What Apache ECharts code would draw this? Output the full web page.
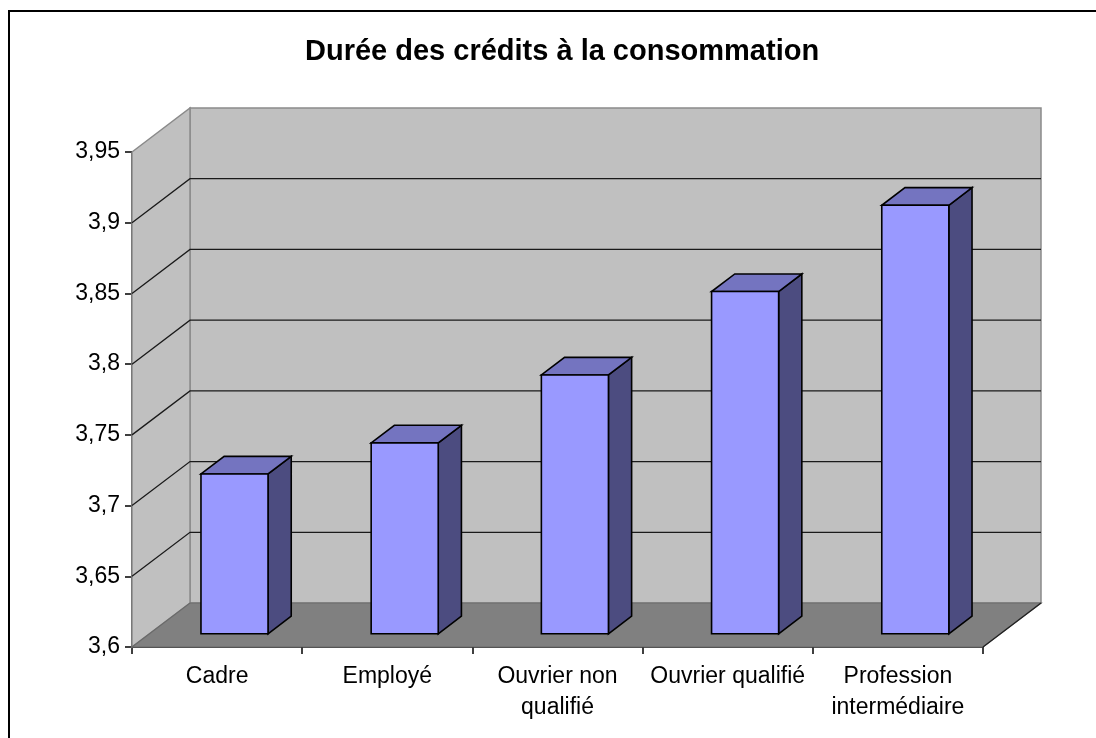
<!DOCTYPE html>
<html>
<head>
<meta charset="utf-8">
<title>Durée des crédits à la consommation</title>
<script src="https://cdn.jsdelivr.net/npm/echarts@6/dist/echarts.min.js"></script>
<style>
  html, body { margin: 0; padding: 0; background: #ffffff; }
  #chart { width: 1096px; height: 738px; }
</style>
</head>
<body>
<div id="chart"></div>
<script>
// Categories and average loan duration by occupation
const categories = ['Cadre', 'Employé', 'Ouvrier non\nqualifié', 'Ouvrier qualifié', 'Profession\nintermédiaire'];
const durations = [3.713, 3.735, 3.783, 3.842, 3.903];
const yTicks = [3.6, 3.65, 3.7, 3.75, 3.8, 3.85, 3.9, 3.95];

// Oblique projection of the depth axis (pixels for the full floor depth)
const DEPTH_X = 58;
const DEPTH_Y = 44;
// Bars occupy this depth slice of the floor
const BAR_FRONT = 0.3;
const BAR_BACK = 0.7;
const BAR_WIDTH = 0.394;

const Y_MIN = yTicks[0];
const Y_MAX = yTicks[yTicks.length - 1];

const FONT = 'Liberation Sans, Arial, sans-serif';

const chart = echarts.init(document.getElementById('chart'));

function fmt(v) {
  return String(+(+v).toFixed(2)).replace('.', ',');
}

// Back wall, side wall, floor and their gridlines
function renderWalls(params, api) {
  const cs = params.coordSys;
  const x0 = cs.x, x1 = cs.x + cs.width;
  const yb = api.coord([0, Y_MIN])[1];
  const yt = api.coord([0, Y_MAX])[1];
  const children = [];
  // back wall
  children.push({
    type: 'polygon',
    shape: { points: [[x0 + DEPTH_X, yt - DEPTH_Y], [x1 + DEPTH_X, yt - DEPTH_Y], [x1 + DEPTH_X, yb - DEPTH_Y], [x0 + DEPTH_X, yb - DEPTH_Y]] },
    style: { fill: '#c0c0c0', stroke: '#8a8a8a', lineWidth: 1.5 }
  });
  // side wall
  children.push({
    type: 'polygon',
    shape: { points: [[x0, yt], [x0 + DEPTH_X, yt - DEPTH_Y], [x0 + DEPTH_X, yb - DEPTH_Y], [x0, yb]] },
    style: { fill: '#c0c0c0', stroke: '#8a8a8a', lineWidth: 1.5 }
  });
  // gridlines on both walls
  yTicks.forEach(function (t, k) {
    if (k === 0 || k === yTicks.length - 1) return;
    const y = api.coord([0, t])[1];
    children.push({
      type: 'polyline',
      shape: { points: [[x0, y], [x0 + DEPTH_X, y - DEPTH_Y], [x1 + DEPTH_X, y - DEPTH_Y]] },
      style: { fill: null, stroke: '#1a1a1a', lineWidth: 1.3 }
    });
  });
  // floor
  children.push({
    type: 'polygon',
    shape: { points: [[x0, yb], [x1, yb], [x1 + DEPTH_X, yb - DEPTH_Y], [x0 + DEPTH_X, yb - DEPTH_Y]] },
    style: { fill: '#808080', stroke: '#6a6a6a', lineWidth: 1.2 }
  });
  children.push({
    type: 'line',
    shape: { x1: x1, y1: yb, x2: x1 + DEPTH_X, y2: yb - DEPTH_Y },
    style: { stroke: '#202020', lineWidth: 1.2 }
  });
  return { type: 'group', children: children };
}

// One 3D box per category
function renderBar(params, api) {
  const idx = api.value(0);
  const top = api.coord([idx, api.value(1)]);
  const base = api.coord([idx, Y_MIN]);
  const band = api.size([1, 0])[0];
  const w = band * BAR_WIDTH;
  const fx = BAR_FRONT * DEPTH_X, fy = BAR_FRONT * DEPTH_Y;
  const ddx = (BAR_BACK - BAR_FRONT) * DEPTH_X, ddy = (BAR_BACK - BAR_FRONT) * DEPTH_Y;
  const xl = top[0] - w / 2 + fx;
  const xr = xl + w;
  const yT = top[1] - fy;
  const yB = base[1] - fy;
  const edge = { stroke: '#000000', lineWidth: 1.6, lineJoin: 'miter' };
  return {
    type: 'group',
    children: [
      {
        type: 'polygon',
        shape: { points: [[xr, yT], [xr + ddx, yT - ddy], [xr + ddx, yB - ddy], [xr, yB]] },
        style: Object.assign({ fill: '#4c4c80' }, edge)
      },
      {
        type: 'polygon',
        shape: { points: [[xl, yT], [xr, yT], [xr + ddx, yT - ddy], [xl + ddx, yT - ddy]] },
        style: Object.assign({ fill: '#7474c0' }, edge)
      },
      {
        type: 'rect',
        shape: { x: xl, y: yT, width: w, height: yB - yT },
        style: Object.assign({ fill: '#9999ff' }, edge)
      }
    ]
  };
}

chart.setOption({
  animation: false,
  backgroundColor: '#ffffff',
  title: {
    text: 'Durée des crédits à la consommation',
    left: 300,
    top: 32,
    textStyle: { fontFamily: FONT, fontSize: 29, fontWeight: 'bold', color: '#000000' }
  },
  graphic: [{
    type: 'rect',
    shape: { x: 9, y: 11, width: 1200, height: 900 },
    style: { fill: null, stroke: '#000000', lineWidth: 2 },
    silent: true
  }],
  grid: { left: 132, top: 152, width: 851, height: 495 },
  xAxis: {
    type: 'category',
    data: categories,
    boundaryGap: true,
    axisLine: { show: true, lineStyle: { color: '#000000', width: 1.5 } },
    axisTick: { show: true, length: 7, lineStyle: { color: '#000000', width: 1.5 } },
    axisLabel: {
      interval: 0, margin: 14, color: '#000000',
      fontFamily: FONT, fontSize: 23, lineHeight: 31
    },
    splitLine: { show: false }
  },
  yAxis: {
    type: 'value',
    min: Y_MIN, max: Y_MAX, interval: 0.05,
    axisLine: { show: true, lineStyle: { color: '#000000', width: 1.5 } },
    axisTick: { show: true, length: 7, lineStyle: { color: '#000000', width: 1.5 } },
    axisLabel: {
      margin: 12, color: '#000000',
      fontFamily: FONT, fontSize: 23,
      formatter: fmt
    },
    splitLine: { show: false }
  },
  series: [
    {
      type: 'custom',
      renderItem: renderWalls,
      data: [[0, Y_MIN]],
      silent: true,
      z: 1,
      clip: false
    },
    {
      type: 'custom',
      renderItem: renderBar,
      data: durations.map(function (v, i) { return [i, v]; }),
      encode: { x: 0, y: 1 },
      z: 3,
      clip: false
    }
  ]
});
</script>
</body>
</html>
